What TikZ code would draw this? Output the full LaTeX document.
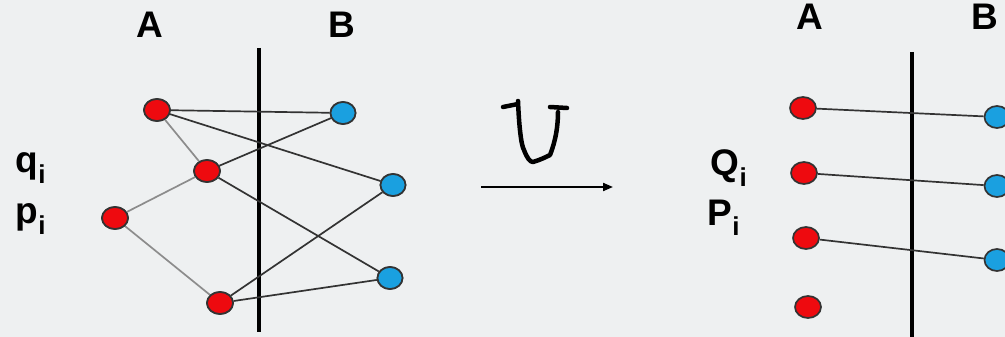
\documentclass[tikz,border=0pt]{standalone}
\usepackage{fontspec}
\setmainfont{Liberation Sans}
\usetikzlibrary{arrows.meta,shapes.geometric}
\definecolor{bg}{HTML}{EEF0F1}
\definecolor{redn}{HTML}{EE0A0F}
\definecolor{bluen}{HTML}{1AA0E0}
\definecolor{edge}{HTML}{333333}
\tikzset{
  x=1pt,y=-1pt,
  rnode/.style={ellipse,draw=black!80,line width=1.7pt,fill=redn,minimum width=26pt,minimum height=22pt,inner sep=0pt},
  bnode/.style={ellipse,draw=black!80,line width=1.7pt,fill=bluen,minimum width=25pt,minimum height=22pt,inner sep=0pt},
  lbl/.style={font=\fontsize{37}{37}\selectfont\bfseries,inner sep=0pt},
  sublbl/.style={font=\fontsize{37}{37}\selectfont\bfseries,inner sep=0pt},
  conn/.style={draw=edge,line width=1.7pt},
  lconn/.style={draw=gray!90,line width=1.7pt},
  cut/.style={line width=3.5pt,black},
}
\begin{document}
\begin{tikzpicture}
\fill[bg] (0,0) rectangle (1005,337);
\useasboundingbox (0,0) rectangle (1005,337);
\clip (0,0) rectangle (1005,337);
% left panel
\node[lbl] (A1) at (150,25) {A};
\node[lbl] (B1) at (342,25) {B};
\coordinate (c1t) at (259,48);
\coordinate (c1b) at (259,332);
\draw[cut] (c1t) -- (c1b);
\node[sublbl] (q) at (31,168) {q$_{\mathbf{i}}$};
\node[sublbl] (p) at (31,219) {p$_{\mathbf{i}}$};
\node[rnode] (r1) at (157,110) {};
\node[rnode] (r2) at (207,171) {};
\node[rnode] (r3) at (115,218) {};
\node[rnode] (r4) at (220,303) {};
\node[bnode] (b1) at (343,113) {};
\node[bnode] (b2) at (393,185) {};
\node[bnode] (b3) at (390,278) {};
\draw[conn] (r1) -- (b1);
\draw[lconn] (r1) -- (r2);
\draw[conn] (r1) -- (b2);
\draw[conn] (r2) -- (b1);
\draw[conn] (r2) -- (b3);
\draw[lconn] (r3) -- (r2);
\draw[lconn] (r3) -- (r4);
\draw[conn] (r4) -- (b2);
\draw[conn] (r4) -- (b3);
% redraw nodes on top
\node[rnode] at (r1) {};
\node[rnode] at (r2) {};
\node[rnode] at (r3) {};
\node[rnode] at (r4) {};
\node[bnode] at (b1) {};
\node[bnode] at (b2) {};
\node[bnode] at (b3) {};
% arrow and U
\coordinate (as) at (481,187);
\coordinate (ae) at (613,187);
\draw[line width=2pt,-{Triangle[length=10pt,width=8pt]}] (as) -- (ae);
\draw[line width=4.5pt,line cap=round,line join=round]
  (503,107) -- (518,104)
  (518,101) .. controls (519,125) and (521,145) .. (524,150)
  .. controls (527,158) and (530,162) .. (533,162)
  .. controls (540,160) and (546,157) .. (550,155)
  .. controls (556,140) and (558,125) .. (558,112)
  (550,107) -- (567,108);
% right panel
\node[lbl] (A2) at (810,17) {A};
\node[lbl] (B2) at (985,17) {B};
\coordinate (c2t) at (912,52);
\coordinate (c2b) at (912,340);
\draw[cut] (c2t) -- (c2b);
\node[sublbl] (Q) at (729,168) {Q$_{\mathbf{i}}$};
\node[sublbl] (P) at (724,218) {P$_{\mathbf{i}}$};
\node[rnode] (s1) at (803,108) {};
\node[rnode] (s2) at (804,173) {};
\node[rnode] (s3) at (806,238) {};
\node[rnode] (s4) at (808,307) {};
\node[bnode] (t1) at (997,117) {};
\node[bnode] (t2) at (997,186) {};
\node[bnode] (t3) at (997,260) {};
\draw[conn] (s1) -- (t1);
\draw[conn] (s2) -- (t2);
\draw[conn] (s3) -- (t3);
\end{tikzpicture}
\end{document}
